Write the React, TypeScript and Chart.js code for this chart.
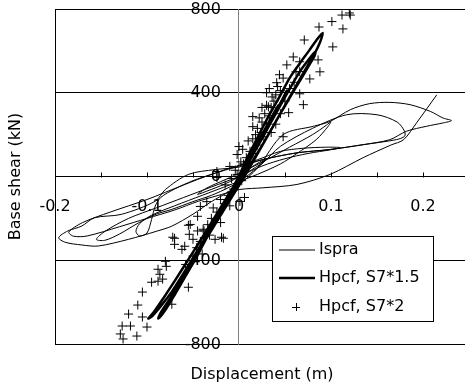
import React, { useEffect, useRef } from 'react';
import { Chart, registerables } from 'chart.js';

Chart.register(...registerables);

const FONT_FAMILY = '"DejaVu Sans", "Liberation Sans", sans-serif';

// Axis ticks
const xMinorTicks = [-0.15, -0.1, -0.05, 0.05, 0.1, 0.15, 0.2];
const xLabelTicks = [-0.2, -0.1, 0, 0.1, 0.2];
const yTickStep = 400;
const xTitle = 'Displacement (m)';
const yTitle = 'Base shear (kN)';
const seriesNames = ['Ispra', 'Hpcf, S7*1.5', 'Hpcf, S7*2'];

// Ispra test: displacement (m), base shear (kN)
const ispra: [number, number][] = [
  [0, 0], [0.012, 40], [0.025, 75], [0.03, 85], [0.022, 55], [0.005, 10], [-0.015, -35], [-0.035, -70], [-0.045, -85],
  [-0.035, -55], [-0.015, -15], [0.005, 25],
  [0.03, 80], [0.055, 140], [0.08, 200], [0.095, 245], [0.1, 262], [0.097, 240], [0.084, 176], [0.063, 110], [0.045, 60],
  [0.02, 10], [-0.01, -40], [-0.04, -90], [-0.07, -140], [-0.095, -185], [-0.108, -225], [-0.112, -262], [-0.108, -284],
  [-0.1, -270], [-0.095, -205], [-0.091, -141], [-0.085, -100], [-0.07, -60], [-0.05, -20], [-0.03, 10], [-0.01, 40],
  [0.02, 80], [0.045, 120], [0.07, 135], [0.095, 140], [0.11, 138], [0.1, 128], [0.075, 110], [0.05, 85], [0.025, 50],
  [0, 0], [-0.03, -50], [-0.06, -100], [-0.09, -150], [-0.12, -200], [-0.145, -260], [-0.155, -300], [-0.146, -305],
  [-0.13, -275], [-0.109, -221], [-0.09, -180], [-0.073, -157], [-0.05, -120], [-0.03, -90], [-0.01, -50], [0.005, -10],
  [0.025, 60], [0.045, 144], [0.08, 230], [0.117, 295], [0.15, 295], [0.172, 260], [0.18, 216], [0.18, 192], [0.171, 176],
  [0.135, 152], [0.099, 129], [0.063, 113], [0.026, 81], [0, 45], [-0.026, 33], [-0.055, 10], [-0.08, -62], [-0.091, -118],
  [-0.128, -181], [-0.157, -197], [-0.171, -237], [-0.186, -260], [-0.196, -292], [-0.189, -314], [-0.171, -327],
  [-0.153, -332], [-0.12, -300], [-0.09, -262], [-0.073, -237], [-0.05, -180], [-0.03, -120], [-0.01, -70], [0, -40],
  [0.02, 40], [0.048, 200], [0.081, 240], [0.099, 263], [0.121, 319], [0.142, 348], [0.164, 354], [0.186, 343],
  [0.208, 311], [0.222, 279], [0.231, 267], [0.222, 256], [0.204, 240], [0.182, 216], [0.164, 176], [0.135, 152],
  [0.099, 129], [0.063, 113], [0.026, 81], [0, 50], [-0.03, 10], [-0.06, -40], [-0.1, -110], [-0.14, -170], [-0.17, -220],
  [-0.185, -265], [-0.18, -285], [-0.165, -284], [-0.13, -240], [-0.1, -200], [-0.07, -160], [-0.044, -118],
  [-0.019, -86], [0.001, -62], [0.026, -54], [0.063, -38], [0.099, 10], [0.135, 90], [0.165, 150], [0.179, 176],
  [0.193, 256], [0.215, 390],
];

// Hpcf, S7*1.5 (thick line)
const hpcf15: [number, number][] = [
  [0, 0], [0.008, 80], [0.016, 150], [0.02, 175], [0.016, 150], [0.006, 60], [-0.004, -40], [-0.014, -120], [-0.02, -165],
  [-0.016, -140], [-0.006, -50], [0.004, 40],
  [0.016, 150], [0.03, 270], [0.044, 380], [0.055, 470], [0.066, 540], [0.076, 600], [0.084, 650], [0.091, 686],
  [0.088, 640], [0.082, 585], [0.074, 525], [0.063, 440], [0.05, 340], [0.037, 240], [0.024, 140], [0.01, 40],
  [-0.004, -60], [-0.018, -160], [-0.032, -260], [-0.046, -360], [-0.06, -460], [-0.073, -550], [-0.085, -620],
  [-0.094, -665], [-0.0986, -678], [-0.093, -650], [-0.082, -580], [-0.07, -500], [-0.057, -410], [-0.044, -320],
  [-0.03, -220], [-0.016, -120], [-0.002, -20], [0.012, 80],
  [0.026, 190], [0.04, 300], [0.054, 410], [0.066, 500], [0.076, 560], [0.083, 595], [0.082, 575], [0.076, 530],
  [0.068, 470], [0.057, 390], [0.045, 300], [0.032, 200], [0.019, 100], [0.006, 0], [-0.008, -100], [-0.022, -200],
  [-0.036, -300], [-0.05, -400], [-0.063, -500], [-0.076, -590], [-0.085, -650], [-0.0877, -678], [-0.082, -650],
  [-0.072, -580], [-0.06, -490], [-0.048, -400], [-0.036, -300], [-0.022, -190], [-0.008, -80], [0.004, 20],
  [0.018, 130], [0.032, 250], [0.045, 350], [0.052, 410], [0.05, 390], [0.042, 320], [0.03, 220], [0.016, 110],
  [0.002, 0], [-0.012, -110], [-0.026, -220], [-0.04, -330], [-0.05, -400], [-0.047, -385], [-0.036, -300],
  [-0.022, -190], [-0.008, -70], [0.004, 30],
  [0.02, 160], [0.035, 280], [0.043, 340], [0.04, 310], [0.028, 210], [0.014, 100], [0, -10], [-0.014, -120],
  [-0.03, -240], [-0.038, -300], [-0.033, -260], [-0.02, -160], [-0.006, -50], [0, 0],
];

// Hpcf, S7*2 (plus markers)
const hpcf2: [number, number][] = [
  [0.12, 781], [0.112, 771], [0.121, 771], [0.101, 740], [0.113, 705], [0.087, 714], [0.102, 619], [0.071, 652],
  [0.059, 571], [0.052, 533], [0.066, 548], [0.086, 557], [0.088, 500], [0.077, 466], [0.044, 486], [0.041, 448],
  [0.03, 400], [0.07, 343], [0.066, 395], [0.015, 286], [0.054, 305], [0.032, 333], [0.066, 501],
  [0.015, 238], [0.048, 190], [0, 143], [-0.002, 105], [-0.01, 48], [-0.024, 24], [-0.024, -5], [0.001, -119],
  [-0.042, -143], [-0.045, -190], [-0.053, -229], [-0.039, -252], [-0.019, -290], [-0.072, -290], [-0.059, -333],
  [-0.055, -233], [-0.054, -276], [-0.07, -295], [-0.07, -324], [-0.062, -348], [-0.017, -295], [-0.08, -405],
  [-0.079, -429], [-0.088, -443], [-0.086, -467], [-0.095, -505], [-0.088, -500], [-0.083, -490], [-0.055, -529],
  [-0.073, -610], [-0.105, -552], [-0.11, -614], [-0.12, -657], [-0.105, -671], [-0.1, -719], [-0.118, -714],
  [-0.127, -714], [-0.129, -752], [-0.126, -776], [-0.111, -762],
  [0.02, 230], [0.025, 260], [0.028, 300], [0.035, 330], [0.038, 360], [0.04, 390], [0.045, 410], [0.042, 430],
  [0.036, 380], [0.03, 340], [0.022, 280], [0.018, 200], [0.024, 210], [0.03, 250], [0.033, 290], [0.027, 190],
  [0.02, 150], [0.015, 180], [0.012, 120], [0.008, 90], [0.005, 60], [0.01, 70], [0.015, 110], [0.004, 130],
  [0.002, 70], [-0.004, 30], [-0.008, -10], [-0.002, 10], [0.003, -20], [-0.006, -60], [-0.012, -90], [-0.016, -130],
  [-0.02, -110], [-0.01, -140], [-0.024, -170], [-0.03, -200], [-0.028, -150], [-0.034, -230], [-0.038, -260],
  [-0.032, -280], [-0.042, -310], [-0.046, -340], [-0.04, -370], [-0.05, -380], [-0.045, -260], [0.05, 360],
  [0.055, 420], [0.06, 450], [0.048, 470], [0.062, 500], [0.035, 210], [0.04, 250], [0.01, 170], [-0.015, -40],
  [-0.02, -220], [-0.026, -300], [0.006, -100], [-0.05, -300], [-0.058, -420], [-0.035, -120], [0.025, 330],
  [0.045, 300], [0.033, 420],
];

const toPoints = (arr: [number, number][]) => arr.map(([x, y]) => ({ x, y }));

export default function App() {
  const ref = useRef<HTMLCanvasElement>(null);

  useEffect(() => {
    const canvas = ref.current;
    if (!canvas) return;

    const decor = {
      id: 'decor',
      beforeDatasetsDraw(chart: any) {
        const { ctx, scales } = chart;
        const xs = scales.x;
        const ys = scales.y;
        const y0 = Math.round(ys.getPixelForValue(0)) + 0.5;
        const x0 = xs.getPixelForValue(0);
        ctx.save();
        ctx.strokeStyle = '#000';
        ctx.lineWidth = 1;
        for (const v of xMinorTicks) {
          const px = Math.round(xs.getPixelForValue(v)) + 0.5;
          ctx.beginPath();
          ctx.moveTo(px, y0);
          ctx.lineTo(px, y0 - 5);
          ctx.stroke();
        }
        ctx.fillStyle = '#000';
        ctx.font = `16px ${FONT_FAMILY}`;
        // x tick labels, below the x axis line
        ctx.textAlign = 'center';
        ctx.textBaseline = 'middle';
        for (const v of xLabelTicks) {
          ctx.fillText(String(v), xs.getPixelForValue(v), y0 + 29);
        }
        // y tick labels, left of the y axis line
        ctx.textAlign = 'right';
        ctx.textBaseline = 'middle';
        for (const t of ys.ticks) {
          ctx.fillText(String(t.value), x0 - 18, ys.getPixelForValue(t.value) + 0.5);
        }
        ctx.restore();
      },
      afterDraw(chart: any) {
        const { ctx, chartArea } = chart;
        ctx.save();
        ctx.fillStyle = '#000';
        ctx.font = `16px ${FONT_FAMILY}`;
        ctx.textAlign = 'center';
        ctx.textBaseline = 'middle';
        ctx.fillText(xTitle, (chartArea.left + chartArea.right) / 2 + 2, 375);
        ctx.translate(16, (chartArea.top + chartArea.bottom) / 2);
        ctx.rotate(-Math.PI / 2);
        ctx.fillText(yTitle, 0, 0);
        ctx.restore();

        // legend box
        const lx = 272.5, ly = 236.5, lw = 161, lh = 85;
        ctx.save();
        ctx.fillStyle = '#fff';
        ctx.fillRect(lx, ly, lw, lh);
        ctx.strokeStyle = '#000';
        ctx.lineWidth = 1;
        ctx.strokeRect(lx, ly, lw, lh);
        ctx.font = `16px ${FONT_FAMILY}`;
        ctx.fillStyle = '#000';
        ctx.textAlign = 'left';
        ctx.textBaseline = 'middle';
        const rows = [250, 278, 307];
        const ds = chart.data.datasets;
        rows.forEach((ry, i) => {
          const d = ds[i];
          if (i < 2) {
            ctx.strokeStyle = d.borderColor;
            ctx.lineWidth = d.borderWidth;
            ctx.beginPath();
            ctx.moveTo(279, ry);
            ctx.lineTo(315, ry);
            ctx.stroke();
          } else {
            ctx.strokeStyle = d.borderColor;
            ctx.lineWidth = 1;
            ctx.beginPath();
            ctx.moveTo(296 - 4, ry + 0.5);
            ctx.lineTo(296 + 4, ry + 0.5);
            ctx.moveTo(296.5, ry - 4);
            ctx.lineTo(296.5, ry + 4);
            ctx.stroke();
          }
          ctx.fillText(d.label, 319, ry);
        });
        ctx.restore();
      },
    };

    const chart = new Chart(canvas, {
      type: 'scatter',
      data: {
        datasets: [
          {
            label: seriesNames[0],
            data: toPoints(ispra),
            showLine: true,
            borderColor: '#000',
            borderWidth: 1,
            pointRadius: 0,
            tension: 0.3,
          },
          {
            label: seriesNames[1],
            data: toPoints(hpcf15),
            showLine: true,
            borderColor: '#000',
            borderWidth: 2.5,
            pointRadius: 0,
            tension: 0.3,
          },
          {
            label: seriesNames[2],
            data: toPoints(hpcf2),
            showLine: false,
            pointStyle: 'cross',
            pointRadius: 4.5,
            borderColor: '#000',
            backgroundColor: '#000',
            borderWidth: 1,
          },
        ],
      } as any,
      options: {
        responsive: false,
        animation: false,
        events: [],
        layout: { autoPadding: false, padding: { left: 55, top: 9, right: 0, bottom: 43 } },
        scales: {
          x: {
            type: 'linear',
            min: -0.2,
            max: 0.2457,
            position: { y: 0 } as any,
            grid: {
              color: (c: any) => (c.tick && Math.abs(c.tick.value + 0.2) < 1e-9 ? '#000' : 'rgba(0,0,0,0)'),
              drawTicks: false,
              lineWidth: 1,
            },
            border: { color: '#000', width: 1 },
            ticks: {
              stepSize: 0.05,
              autoSkip: false,
              includeBounds: false,
              display: false,
            },
          },
          y: {
            type: 'linear',
            min: -800,
            max: 800,
            position: { x: 0 } as any,
            grid: { color: '#000', drawTicks: false, lineWidth: 1 },
            border: { color: '#808080', width: 1 },
            ticks: {
              stepSize: yTickStep,
              display: false,
            },
          },
        },
        plugins: {
          legend: { display: false },
          tooltip: { enabled: false },
        },
      } as any,
      plugins: [decor],
    });

    return () => chart.destroy();
  }, []);

  return (
    <div style={{ width: 465, height: 387 }}>
      <style>{'body{margin:0}'}</style>
      <canvas ref={ref} width={465} height={387} style={{ display: 'block' }} />
    </div>
  );
}
